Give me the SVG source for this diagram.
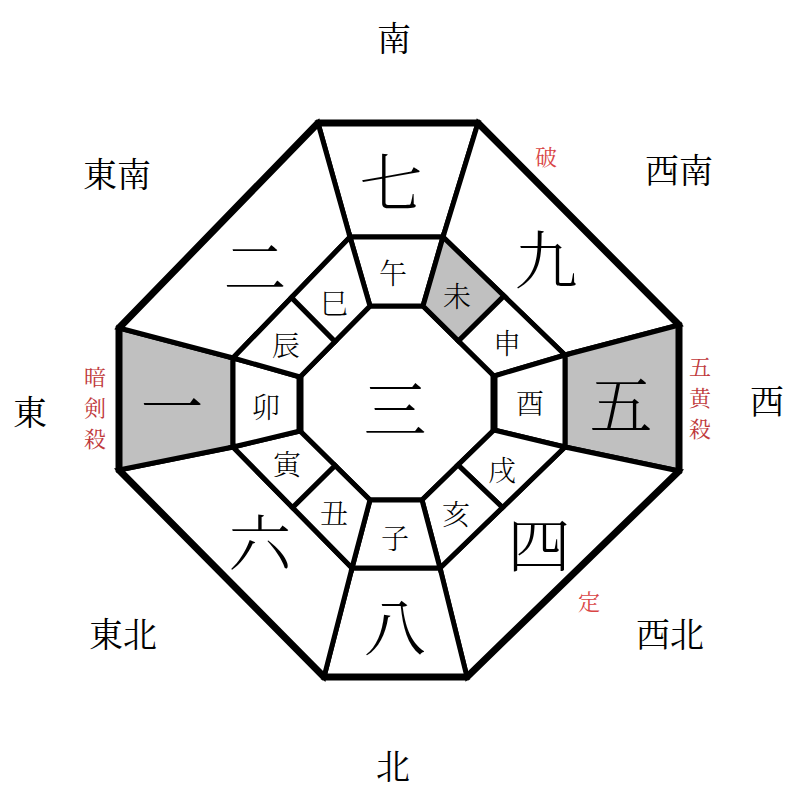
<svg xmlns="http://www.w3.org/2000/svg" width="800" height="800" viewBox="0 0 800 800">
<style>
.cell{fill:#ffffff;stroke:#000;stroke-width:5;stroke-linejoin:miter}
.grey{fill:#c0c0c0}
text{font-family:"Noto Serif CJK JP","Noto Sans CJK JP","Noto Sans CJK SC",sans-serif;text-anchor:middle;dominant-baseline:central;fill:#000}
.num{font-size:63px;font-weight:300}
.zod{font-size:28px;font-weight:300}
.dir{font-size:34px}
.red{font-size:22px;fill:#c0393b}
.frame{fill:none;stroke:#000;stroke-width:7;stroke-linejoin:miter}
.thick{fill:none;stroke:#000;stroke-width:7}
</style>
<rect width="800" height="800" fill="#fff"/>
<g id="palace-7"><polygon class="cell" points="318,123 478,123 443,237 350,237"/><text class="num" x="391" y="178">七</text></g>
<g id="palace-9"><polygon class="cell" points="478,123 679,325 565,355 443,237"/><text class="num" x="546" y="255">九</text></g>
<g id="palace-5"><polygon class="cell grey" points="679,325 679,471 565,447 565,355"/><text class="num" x="621" y="400">五</text></g>
<g id="palace-4"><polygon class="cell" points="679,471 467,677 440,568 565,447"/><text class="num" x="539" y="540">四</text></g>
<g id="palace-8"><polygon class="cell" points="467,677 324,677 352,568 440,568"/><text class="num" x="395" y="623">八</text></g>
<g id="palace-6"><polygon class="cell" points="324,677 119,470 233,447 352,568"/><text class="num" x="260" y="538">六</text></g>
<g id="palace-1"><polygon class="cell grey" points="119,470 119,328 233,358 233,447"/><text class="num" x="172" y="402">一</text></g>
<g id="palace-2"><polygon class="cell" points="119,328 318,123 350,237 233,358"/><text class="num" x="255" y="262">二</text></g>
<g id="palace-3"><polygon class="cell" points="370,306 423,306 494,376 494,430 422,500 370,500 300,431 300,377"/><text class="num" x="395" y="404">三</text></g>

<g id="zodiac-uma"><polygon class="cell" points="350,237 443,237 423,306 370,306"/><text class="zod" x="393" y="272">午</text></g>
<g id="zodiac-hitsuji"><polygon class="cell grey" points="443,237 504,296 458.5,341 423,306"/><text class="zod" x="457" y="295">未</text></g>
<g id="zodiac-saru"><polygon class="cell" points="504,296 565,355 494,376 458.5,341"/><text class="zod" x="507" y="342">申</text></g>
<g id="zodiac-tori"><polygon class="cell" points="565,355 565,447 494,430 494,376"/><text class="zod" x="530" y="402">酉</text></g>
<g id="zodiac-inu"><polygon class="cell" points="565,447 502.5,507.5 458,465 494,430"/><text class="zod" x="502" y="469">戌</text></g>
<g id="zodiac-i"><polygon class="cell" points="502.5,507.5 440,568 422,500 458,465"/><text class="zod" x="456" y="513">亥</text></g>
<g id="zodiac-ne"><polygon class="cell" points="440,568 352,568 370,500 422,500"/><text class="zod" x="395" y="537">子</text></g>
<g id="zodiac-ushi"><polygon class="cell" points="352,568 292.5,507.5 335,465.5 370,500"/><text class="zod" x="334" y="512">丑</text></g>
<g id="zodiac-tora"><polygon class="cell" points="292.5,507.5 233,447 300,431 335,465.5"/><text class="zod" x="287" y="463">寅</text></g>
<g id="zodiac-u"><polygon class="cell" points="233,447 233,358 300,377 300,431"/><text class="zod" x="266" y="406">卯</text></g>
<g id="zodiac-tatsu"><polygon class="cell" points="233,358 291.5,297.5 335,341.5 300,377"/><text class="zod" x="286" y="344">辰</text></g>
<g id="zodiac-mi"><polygon class="cell" points="291.5,297.5 350,237 370,306 335,341.5"/><text class="zod" x="334" y="302">巳</text></g>

<g id="connectors">
<polygon class="frame" points="318,123 478,123 679,325 679,471 467,677 324,677 119,470 119,328"/>
<line class="thick" x1="300" y1="377" x2="300" y2="431"/>
<line class="thick" x1="494" y1="376" x2="494" y2="430"/>
</g>

<g id="directions">
<text class="dir" x="394" y="36">南</text>
<text class="dir" x="117" y="172">東南</text>
<text class="dir" x="679" y="168">西南</text>
<text class="dir" x="30" y="410">東</text>
<text class="dir" x="767" y="399">西</text>
<text class="dir" x="123" y="632">東北</text>
<text class="dir" x="670" y="632">西北</text>
<text class="dir" x="393" y="764">北</text>
</g>
<g id="marks">
<text class="red" x="546" y="155" style="fill:#d94545">破</text>
<text class="red" x="589" y="600" style="fill:#d94545">定</text>
<text class="red" x="95" y="375">暗</text>
<text class="red" x="95" y="406">剣</text>
<text class="red" x="95" y="437">殺</text>
<text class="red" x="700" y="365">五</text>
<text class="red" x="700" y="396">黄</text>
<text class="red" x="700" y="427">殺</text>
</g>
</svg>
